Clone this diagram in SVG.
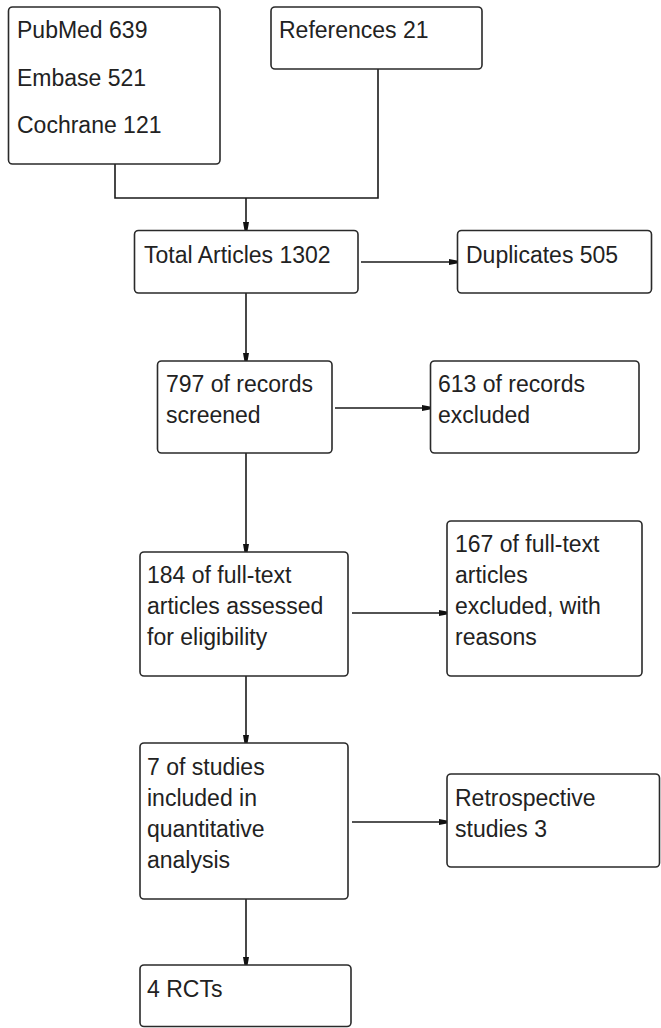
<svg xmlns="http://www.w3.org/2000/svg" width="661" height="1028" viewBox="0 0 661 1028">
<style>
.box{fill:#fff;stroke:#2a2a2a;stroke-width:1.6}
.t{font-family:"Liberation Sans",Arial,sans-serif;font-size:23px;fill:#222}
.c{fill:none;stroke:#1a1a1a;stroke-width:1.6}
</style>
<defs>
<marker id="ah" markerUnits="userSpaceOnUse" markerWidth="12" markerHeight="10" viewBox="0 -5 10 10" refX="9" refY="0" orient="auto">
<path d="M1,-3 L9,-1.6 L9,1.6 L1,3 Z" fill="#111"/>
</marker>
</defs>
<rect width="661" height="1028" fill="#fff"/>
<g id="connectors">
<path class="c" d="M115,164 V198 H378 V69"/>
<path class="c" d="M246,198 V230" marker-end="url(#ah)"/>
<path class="c" d="M361,262 H457" marker-end="url(#ah)"/>
<path class="c" d="M246,293 V361" marker-end="url(#ah)"/>
<path class="c" d="M335,408 H430" marker-end="url(#ah)"/>
<path class="c" d="M246,453 V552" marker-end="url(#ah)"/>
<path class="c" d="M352,613 H447" marker-end="url(#ah)"/>
<path class="c" d="M246,676 V743" marker-end="url(#ah)"/>
<path class="c" d="M352,822 H447" marker-end="url(#ah)"/>
<path class="c" d="M246,899 V965" marker-end="url(#ah)"/>
</g>
<g id="sources">
<rect class="box" x="8.5" y="7" width="211.5" height="157" rx="4"/>
<text class="t" x="17" y="38">PubMed 639</text>
<text class="t" x="17" y="86">Embase 521</text>
<text class="t" x="17" y="133">Cochrane 121</text>
</g>
<g id="references">
<rect class="box" x="271" y="7" width="211" height="62" rx="4"/>
<text class="t" x="279" y="38">References 21</text>
</g>
<g id="total">
<rect class="box" x="134.5" y="230.5" width="223.5" height="62.5" rx="4"/>
<text class="t" x="144" y="263">Total Articles 1302</text>
</g>
<g id="duplicates">
<rect class="box" x="457.5" y="230.5" width="194" height="62.5" rx="4"/>
<text class="t" x="466" y="263">Duplicates 505</text>
</g>
<g id="screened">
<rect class="box" x="157.5" y="361" width="174.5" height="92" rx="4"/>
<text class="t" x="166" y="392">797 of records</text>
<text class="t" x="166" y="423">screened</text>
</g>
<g id="excluded1">
<rect class="box" x="430.5" y="361" width="208.5" height="92" rx="4"/>
<text class="t" x="438" y="392">613 of records</text>
<text class="t" x="438" y="423">excluded</text>
</g>
<g id="fulltext">
<rect class="box" x="140" y="552" width="208" height="124" rx="4"/>
<text class="t" x="147" y="583">184 of full-text</text>
<text class="t" x="147" y="614">articles assessed</text>
<text class="t" x="147" y="645">for eligibility</text>
</g>
<g id="excluded2">
<rect class="box" x="447" y="521" width="195" height="155" rx="4"/>
<text class="t" x="455" y="552">167 of full-text</text>
<text class="t" x="455" y="583">articles</text>
<text class="t" x="455" y="614">excluded, with</text>
<text class="t" x="455" y="645">reasons</text>
</g>
<g id="included">
<rect class="box" x="140" y="743" width="208" height="156" rx="4"/>
<text class="t" x="147" y="775">7 of studies</text>
<text class="t" x="147" y="806">included in</text>
<text class="t" x="147" y="837">quantitative</text>
<text class="t" x="147" y="868">analysis</text>
</g>
<g id="retrospective">
<rect class="box" x="447" y="774" width="212.5" height="93" rx="4"/>
<text class="t" x="455" y="806">Retrospective</text>
<text class="t" x="455" y="837">studies 3</text>
</g>
<g id="rcts">
<rect class="box" x="140" y="965" width="211" height="61.5" rx="4"/>
<text class="t" x="147" y="997">4 RCTs</text>
</g>
</svg>
